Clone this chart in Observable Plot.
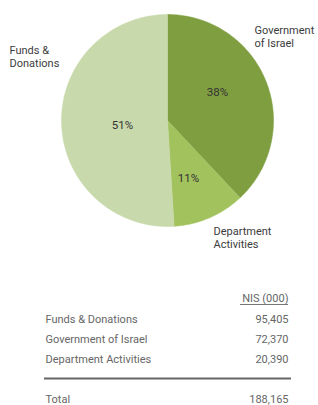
<!DOCTYPE html>
<html>
<head>
<meta charset="utf-8">
<script src="https://cdn.jsdelivr.net/npm/d3@7"></script>
<script src="https://cdn.jsdelivr.net/npm/@observablehq/plot@0.6"></script>
<style>
  html, body { margin: 0; padding: 0; background: #fff; }
  svg { display: block; }
</style>
</head>
<body>
<div id="chart"></div>
<script>
// Data
const categories = ["Government of Israel", "Department Activities", "Funds & Donations"];
const pieLabels = ["Government\nof Israel", "Department\nActivities", "Funds &\nDonations"];
const percents = [38, 11, 51];
const colors = ["#7f9e40", "#a2c25e", "#c8d9ab"];
const tableRows = ["Funds & Donations", "Government of Israel", "Department Activities"];
const tableValues = ["95,405", "72,370", "20,390"];
const totalLabel = "Total";
const totalValue = "188,165";
const unitLabel = "NIS (000)";

// Layout
const W = 318, H = 405;
const cx = 167, cy = 120, R = 106;

const pie = d3.pie().sort(null).value(d => d.value)(
  categories.map((c, i) => ({ name: c, value: percents[i], color: colors[i], label: pieLabels[i] }))
);

// polygon points for each slice (angles from 12 o'clock clockwise)
const slicePts = [];
pie.forEach(s => {
  const n = Math.max(8, Math.ceil((s.endAngle - s.startAngle) * 60));
  slicePts.push({ name: s.data.name, x: cx, y: cy });
  for (let k = 0; k <= n; k++) {
    const a = s.startAngle + (s.endAngle - s.startAngle) * k / n;
    slicePts.push({ name: s.data.name, x: cx + R * Math.sin(a), y: cy - R * Math.cos(a) });
  }
  slicePts.push({ name: s.data.name, x: cx, y: cy });
});

const pctPos = [{ x: 217, y: 92 }, { x: 188, y: 178 }, { x: 122, y: 125 }];
const pctData = pie.map((s, i) => ({ text: s.data.value + "%", ...pctPos[i] }));

const outerLabels = [
  { text: pieLabels[0], x: 254, y: 30 },
  { text: pieLabels[1], x: 213, y: 231 },
  { text: pieLabels[2], x: 9, y: 50 }
];

const rowY0 = 319, rowStep = 20;
const rows = tableRows.map((r, i) => ({ label: r, value: tableValues[i], y: rowY0 + i * rowStep }));

const plot = Plot.plot({
  width: W,
  height: H,
  margin: 0,
  x: { domain: [0, W], range: [0, W], axis: null },
  y: { domain: [0, H], range: [0, H], axis: null },
  color: { domain: categories, range: colors },
  style: { fontFamily: "Roboto, 'Noto Sans', sans-serif", background: "#fff" },
  marks: [
    Plot.line(slicePts, { x: "x", y: "y", z: "name", fill: "name", stroke: "name", strokeWidth: 0.5, curve: "linear" }),
    Plot.text(pctData, { x: "x", y: "y", text: "text", fontSize: 11.5, fill: "#333" }),
    Plot.text(outerLabels, { x: "x", y: "y", text: "text", textAnchor: "start", fontSize: 11, fill: "#3c3c3c", lineHeight: 1.2, lineAnchor: "top", dy: -6 }),
    // table header
    Plot.text([unitLabel], { x: () => 288, y: () => 298, text: d => d, textAnchor: "end", fontSize: 11, fill: "#666" }),
    Plot.ruleY([304], { x1: 240, x2: 288, stroke: "#777", strokeWidth: 1 }),
    Plot.text(rows, { x: () => 45, y: "y", text: "label", textAnchor: "start", fontSize: 11, fill: "#666" }),
    Plot.text(rows, { x: () => 288, y: "y", text: "value", textAnchor: "end", fontSize: 11, fill: "#666" }),
    Plot.ruleY([378], { x1: 44, x2: 291, stroke: "#666", strokeWidth: 2 }),
    Plot.text([totalLabel], { x: () => 45, y: () => 399, text: d => d, textAnchor: "start", fontSize: 11, fill: "#666" }),
    Plot.text([totalValue], { x: () => 288, y: () => 399, text: d => d, textAnchor: "end", fontSize: 11, fill: "#666" })
  ]
});
document.getElementById("chart").appendChild(plot);
</script>
</body>
</html>
